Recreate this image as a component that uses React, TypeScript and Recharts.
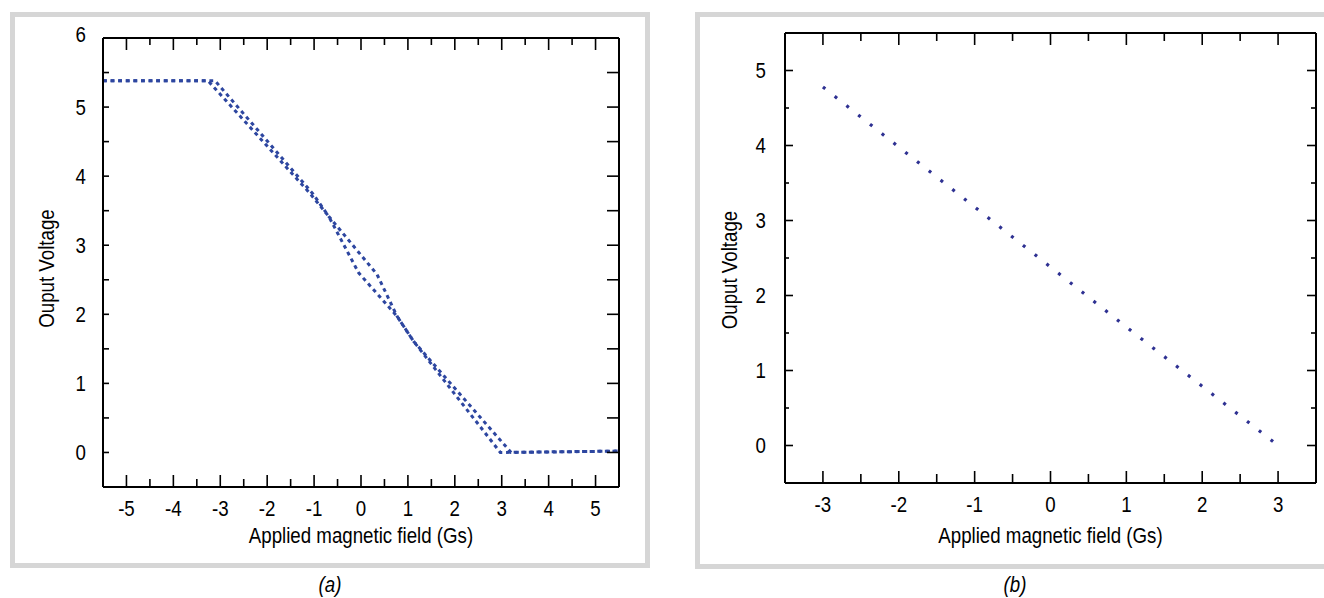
import React from 'react';
import { LineChart, Line, XAxis, YAxis } from 'recharts';

const FONT = "'Liberation Sans', Arial, sans-serif";
const SX = 0.85; // horizontal condensing of the label font
const FRAME_COLOR = '#d6d6d6';
const INK = '#000';

// ---------- Panel (a): hysteresis sweep ----------
const aXTicks = [-5, -4.5, -4, -3.5, -3, -2.5, -2, -1.5, -1, -0.5, 0, 0.5, 1, 1.5, 2, 2.5, 3, 3.5, 4, 4.5, 5];
const aYTicks = [0, 0.5, 1, 1.5, 2, 2.5, 3, 3.5, 4, 4.5, 5, 5.5, 6];
const aSweep1Field = [-5.5, -3.26, -1.1, -0.69, -0.05, 0.77, 1.12, 2.97, 5.5];
const aSweep1Volt = [5.38, 5.38, 3.76, 3.42, 2.6, 1.97, 1.61, 0.0, 0.02];
const aSweep2Field = [-5.5, -3.11, -1.02, -0.69, 0.34, 0.77, 1.12, 3.2, 5.5];
const aSweep2Volt = [5.38, 5.38, 3.74, 3.42, 2.58, 1.97, 1.61, 0.0, 0.02];

// ---------- Panel (b): linear range ----------
const bXTicks = [-3, -2.5, -2, -1.5, -1, -0.5, 0, 0.5, 1, 1.5, 2, 2.5, 3];
const bYTicks = [0, 0.5, 1, 1.5, 2, 2.5, 3, 3.5, 4, 4.5, 5];
const bField = [-3, -2, -1, 0, 1, 2, 3];
const bVolt = [4.78, 3.98, 3.18, 2.38, 1.58, 0.79, 0.0];

const X_TITLE = 'Applied magnetic field (Gs)';
const Y_TITLE = 'Ouput Voltage';

const zip = (xs: number[], ys: number[]) => xs.map((x, i) => ({ x, v: ys[i] }));
const isMajor = (v: number) => Math.abs(v - Math.round(v)) < 1e-9;

type TickLens = { major: number; minor: number };

const labelStyle = { fontFamily: FONT, fontSize: 22, fill: INK } as const;

function NarrowText({ x, y, anchor, rotate, children }: any) {
  const t = `translate(${x},${y})${rotate ? ` rotate(${rotate})` : ''} scale(${SX},1)`;
  return (
    <text x={0} y={0} transform={t} textAnchor={anchor} {...labelStyle}>
      {children}
    </text>
  );
}

function bottomTick(lens: TickLens, baseline: number) {
  return (props: any) => {
    const { x, y, payload } = props;
    const v = payload.value as number;
    const m = isMajor(v);
    return (
      <g>
        <line x1={x} x2={x} y1={y} y2={y - (m ? lens.major : lens.minor)} stroke="#000" strokeWidth={1.6} />
        {m ? (
          <NarrowText x={x} y={y + baseline} anchor="middle">
            {String(v)}
          </NarrowText>
        ) : null}
      </g>
    );
  };
}

function topTick(lens: TickLens) {
  return (props: any) => {
    const { x, y, payload } = props;
    const v = payload.value as number;
    const m = isMajor(v);
    return <line x1={x} x2={x} y1={y} y2={y + (m ? lens.major : lens.minor)} stroke="#000" strokeWidth={1.6} />;
  };
}

function leftTick(lens: TickLens, gap: number, topValue: number) {
  return (props: any) => {
    const { x, y, payload } = props;
    const v = payload.value as number;
    const m = isMajor(v);
    const lift = v === topValue ? -3.5 : 0;
    return (
      <g>
        <line x1={x} x2={x + (m ? lens.major : lens.minor)} y1={y} y2={y} stroke="#000" strokeWidth={1.6} />
        {m ? (
          <NarrowText x={x - gap} y={y + 7.8 + lift} anchor="end">
            {String(v)}
          </NarrowText>
        ) : null}
      </g>
    );
  };
}

function rightTick(lens: TickLens) {
  return (props: any) => {
    const { x, y, payload } = props;
    const v = payload.value as number;
    const m = isMajor(v);
    return <line x1={x} x2={x - (m ? lens.major : lens.minor)} y1={y} y2={y} stroke="#000" strokeWidth={1.6} />;
  };
}

function XTitle(props: any) {
  const vb = props.viewBox || {};
  return (
    <NarrowText x={vb.x + vb.width / 2} y={vb.y + props.dy0} anchor="middle">
      {X_TITLE}
    </NarrowText>
  );
}

function YTitle(props: any) {
  const vb = props.viewBox || {};
  const cx = vb.x - props.dx0;
  const cy = vb.y + vb.height / 2 + props.dyc;
  return (
    <NarrowText x={cx} y={cy} anchor="middle" rotate={-90}>
      {Y_TITLE}
    </NarrowText>
  );
}

const axisLine = { stroke: '#000', strokeWidth: 2 };

function PanelA() {
  const s1 = zip(aSweep1Field, aSweep1Volt);
  const s2 = zip(aSweep2Field, aSweep2Volt);
  const color = '#2d46a0';
  return (
    <LineChart width={660} height={598} margin={{ top: 37, left: 102, right: 40, bottom: 110 }}>
      <XAxis
        xAxisId="b"
        dataKey="x"
        type="number"
        domain={[-5.5, 5.5]}
        ticks={aXTicks}
        interval={0}
        height={1}
        tickSize={0}
        tickMargin={0}
        tickLine={false}
        axisLine={axisLine}
        tick={bottomTick({ major: 12, minor: 8 }, 29)}
        allowDataOverflow
        label={<XTitle dy0={56} />}
      />
      <XAxis
        xAxisId="t"
        orientation="top"
        dataKey="x"
        type="number"
        domain={[-5.5, 5.5]}
        ticks={aXTicks}
        interval={0}
        height={1}
        tickSize={0}
        tickMargin={0}
        tickLine={false}
        axisLine={axisLine}
        tick={topTick({ major: 12, minor: 7 })}
        allowDataOverflow
      />
      <YAxis
        yAxisId="l"
        type="number"
        domain={[-0.5, 6]}
        ticks={aYTicks}
        interval={0}
        width={1}
        tickSize={0}
        tickMargin={0}
        tickLine={false}
        axisLine={axisLine}
        tick={leftTick({ major: 6, minor: 6 }, 17, 6)}
        allowDataOverflow
        label={<YTitle dx0={48} dyc={6} />}
      />
      <YAxis
        yAxisId="r"
        orientation="right"
        type="number"
        domain={[-0.5, 6]}
        ticks={aYTicks}
        interval={0}
        width={1}
        tickSize={0}
        tickMargin={0}
        tickLine={false}
        axisLine={axisLine}
        tick={rightTick({ major: 12, minor: 12 })}
        allowDataOverflow
      />
      <Line
        xAxisId="b"
        yAxisId="l"
        data={s1}
        dataKey="v"
        stroke={color}
        strokeWidth={3}
        strokeDasharray="3.8 3.8"
        dot={false}
        activeDot={false}
        isAnimationActive={false}
      />
      <Line
        xAxisId="b"
        yAxisId="l"
        data={s2}
        dataKey="v"
        stroke={color}
        strokeWidth={3}
        strokeDasharray="3.8 3.8"
        dot={false}
        activeDot={false}
        isAnimationActive={false}
      />
    </LineChart>
  );
}

function PanelB() {
  const s = zip(bField, bVolt);
  return (
    <LineChart width={664} height={598} margin={{ top: 32, left: 124, right: 7, bottom: 114 }}>
      <XAxis
        xAxisId="b"
        dataKey="x"
        type="number"
        domain={[-3.5, 3.5]}
        ticks={bXTicks}
        interval={0}
        height={1}
        tickSize={0}
        tickMargin={0}
        tickLine={false}
        axisLine={axisLine}
        tick={bottomTick({ major: 12, minor: 9 }, 29)}
        allowDataOverflow
        label={<XTitle dy0={60} />}
      />
      <XAxis
        xAxisId="t"
        orientation="top"
        dataKey="x"
        type="number"
        domain={[-3.5, 3.5]}
        ticks={bXTicks}
        interval={0}
        height={1}
        tickSize={0}
        tickMargin={0}
        tickLine={false}
        axisLine={axisLine}
        tick={topTick({ major: 12, minor: 8 })}
        allowDataOverflow
      />
      <YAxis
        yAxisId="l"
        type="number"
        domain={[-0.5, 5.5]}
        ticks={bYTicks}
        interval={0}
        width={1}
        tickSize={0}
        tickMargin={0}
        tickLine={false}
        axisLine={axisLine}
        tick={leftTick({ major: 8, minor: 4 }, 19, 99)}
        allowDataOverflow
        label={<YTitle dx0={47} dyc={12} />}
      />
      <YAxis
        yAxisId="r"
        orientation="right"
        type="number"
        domain={[-0.5, 5.5]}
        ticks={bYTicks}
        interval={0}
        width={1}
        tickSize={0}
        tickMargin={0}
        tickLine={false}
        axisLine={axisLine}
        tick={rightTick({ major: 9, minor: 5 })}
        allowDataOverflow
      />
      <Line
        xAxisId="b"
        yAxisId="l"
        data={s}
        dataKey="v"
        stroke="#2e3192"
        strokeWidth={3.2}
        strokeDasharray="3 12"
        dot={false}
        activeDot={false}
        isAnimationActive={false}
      />
    </LineChart>
  );
}

const captionStyle: React.CSSProperties = {
  position: 'absolute',
  fontFamily: FONT,
  fontStyle: 'italic',
  fontSize: 22,
  color: INK,
  width: 60,
  textAlign: 'center',
  lineHeight: '24px',
  transform: `scaleX(${SX})`,
};

export default function App() {
  return (
    <div
      style={{
        position: 'absolute',
        left: 0,
        top: 0,
        width: 1324,
        height: 598,
        overflow: 'hidden',
        background: '#fff',
      }}
    >
      <div
        style={{
          position: 'absolute',
          left: 10,
          top: 12,
          width: 640,
          height: 556,
          border: `5px solid ${FRAME_COLOR}`,
          boxSizing: 'border-box',
        }}
      />
      <div
        style={{
          position: 'absolute',
          left: 695,
          top: 12,
          width: 700,
          height: 557,
          border: `5px solid ${FRAME_COLOR}`,
          boxSizing: 'border-box',
        }}
      />
      <div style={{ position: 'absolute', left: 0, top: 0 }}>
        <PanelA />
      </div>
      <div style={{ position: 'absolute', left: 660, top: 0 }}>
        <PanelB />
      </div>
      <div style={{ ...captionStyle, left: 330 - 30, top: 573 }}>(a)</div>
      <div style={{ ...captionStyle, left: 1015 - 30, top: 573 }}>(b)</div>
    </div>
  );
}
